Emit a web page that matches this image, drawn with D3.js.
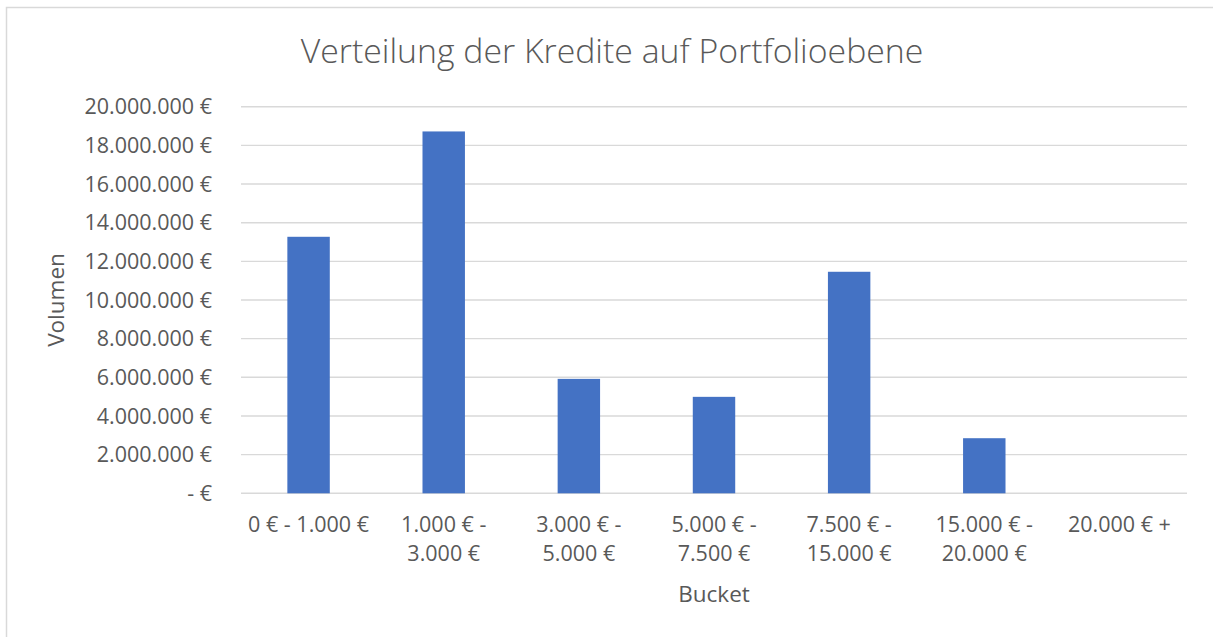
<!DOCTYPE html>
<html>
<head>
<meta charset="utf-8">
<script src="https://cdn.jsdelivr.net/npm/d3@7"></script>
<style>
  html, body { margin: 0; padding: 0; background: #fff; }
  text { font-family: "Open Sans", "Noto Sans", sans-serif; fill: #595959; }
</style>
</head>
<body>
<div id="chart"></div>
<script>
// data
const categories = ["0 € - 1.000 €", "1.000 € - 3.000 €", "3.000 € - 5.000 €", "5.000 € - 7.500 €",
                    "7.500 € - 15.000 €", "15.000 € - 20.000 €", "20.000 € +"];
const volumes = [13270000, 18720000, 5920000, 4990000, 11460000, 2850000, 0];
const yTicks = [0, 2000000, 4000000, 6000000, 8000000, 10000000, 12000000, 14000000, 16000000, 18000000, 20000000];
const chartTitle = "Verteilung der Kredite auf Portfolioebene";
const xTitle = "Bucket";
const yTitle = "Volumen";

const W = 1213, H = 637;
const margin = {top: 106.7, bottom: H - 493.3, left: 241, right: W - 1187};

const de = d3.formatLocale({decimal: ",", thousands: ".", grouping: [3], currency: ["", " €"]});
const fmtEuro = de.format("$,.0f");
function tickLabel(v) { return v === 0 ? "- €" : fmtEuro(v); }

const svg = d3.select("#chart").append("svg")
    .attr("width", W)
    .attr("height", H);

// chart frame
svg.append("rect")
    .attr("x", 6.5).attr("y", 7.5)
    .attr("width", W + 20).attr("height", H + 20)
    .attr("fill", "#fff")
    .attr("stroke", "#d9d9d9")
    .attr("stroke-width", 1.5);

const x = d3.scaleBand()
    .domain(categories)
    .range([margin.left, W - margin.right])
    .paddingInner(0.686)
    .paddingOuter(0.343);

const y = d3.scaleLinear()
    .domain([0, 20000000])
    .range([H - margin.bottom, margin.top]);

// gridlines
svg.append("g")
    .selectAll("line")
    .data(yTicks)
    .enter().append("line")
      .attr("x1", margin.left)
      .attr("x2", W - margin.right)
      .attr("y1", d => y(d))
      .attr("y2", d => y(d))
      .attr("stroke", "#d9d9d9")
      .attr("stroke-width", 1.4);

// y tick labels
svg.append("g")
    .selectAll("text")
    .data(yTicks)
    .enter().append("text")
      .attr("x", 212)
      .attr("y", d => y(d))
      .attr("dy", "0.36em")
      .attr("text-anchor", "end")
      .style("font-size", "21.5px")
      .text(tickLabel);

// bars
svg.append("g")
    .selectAll(".bar")
    .data(categories)
    .enter().append("rect")
      .attr("class", "bar")
      .attr("x", d => x(d))
      .attr("y", (d, i) => y(volumes[i]))
      .attr("width", x.bandwidth())
      .attr("height", (d, i) => y(0) - y(volumes[i]))
      .attr("fill", "#4472c4");

// x category labels, wrapped to the band step like Excel does
const maxW = x.step();
const xl = svg.append("g")
    .selectAll("text")
    .data(categories)
    .enter().append("text")
      .attr("text-anchor", "middle")
      .style("font-size", "21.5px")
      .attr("transform", d => "translate(" + (x(d) + x.bandwidth() / 2) + ",532)");

xl.each(function(d) {
  const t = d3.select(this);
  const words = d.split(" ");
  let line = [], lines = [];
  const probe = t.append("tspan");
  words.forEach(w => {
    line.push(w);
    probe.text(line.join(" "));
    if (probe.node().getComputedTextLength() > maxW && line.length > 1) {
      line.pop();
      lines.push(line.join(" "));
      line = [w];
    }
  });
  lines.push(line.join(" "));
  probe.remove();
  lines.forEach((l, i) => {
    t.append("tspan").attr("x", 0).attr("y", i * 28.7).text(l);
  });
});

// titles
svg.append("text")
    .attr("x", 612)
    .attr("y", 63)
    .attr("text-anchor", "middle")
    .style("font-size", "33.8px")
    .style("font-weight", 300)
    .text(chartTitle);

svg.append("text")
    .attr("x", (margin.left + W - margin.right) / 2)
    .attr("y", 601.5)
    .attr("text-anchor", "middle")
    .style("font-size", "22.5px")
    .text(xTitle);

svg.append("text")
    .attr("transform", "translate(64," + ((margin.top + H - margin.bottom) / 2) + ") rotate(-90)")
    .attr("text-anchor", "middle")
    .style("font-size", "22.5px")
    .text(yTitle);
</script>
</body>
</html>
